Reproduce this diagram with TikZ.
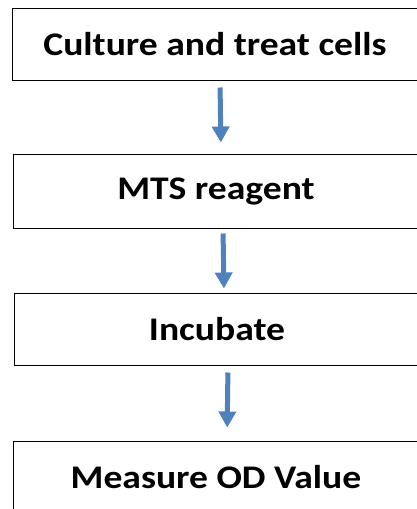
\documentclass[tikz,border=0pt]{standalone}
\usepackage{fontspec}
\setmainfont{Carlito}
\newfontfamily\stepfont{Carlito}[FakeStretch=1.14]
\usetikzlibrary{positioning}
\usetikzlibrary{arrows.meta}
\definecolor{freccia}{RGB}{79,129,189}
\tikzset{
  stepbox/.style={draw=black, line width=1pt, minimum width=406pt, minimum height=72pt,
    inner sep=0pt, font={\stepfont\fontsize{33}{38}\selectfont\bfseries}},
  flow/.style={draw=freccia, line width=5pt, -{Triangle[width=17pt,length=16pt]}}
}
\begin{document}
\begin{tikzpicture}[x=1pt,y=-1pt]
\useasboundingbox (0,0) rectangle (417,509);

\node[stepbox] (culture) at (215,44) {Culture and treat cells};
\node[stepbox, minimum height=74pt] (mts) at (216,191) {MTS reagent};
\node[stepbox] (incubate) at (217,329) {Incubate};
\node[stepbox] (measure) at (216,477) {Measure OD Value};

\draw[flow, shorten <=7pt, shorten >=11pt] ([xshift=5pt]culture.south) -- ([xshift=5pt]mts.north);
\draw[flow, shorten <=5pt, shorten >=4pt] ([xshift=7pt]mts.south) -- ([xshift=7pt]incubate.north);
\draw[flow, shorten <=7pt, shorten >=13pt] ([xshift=11pt]incubate.south) -- ([xshift=11pt]measure.north);
\end{tikzpicture}
\end{document}
